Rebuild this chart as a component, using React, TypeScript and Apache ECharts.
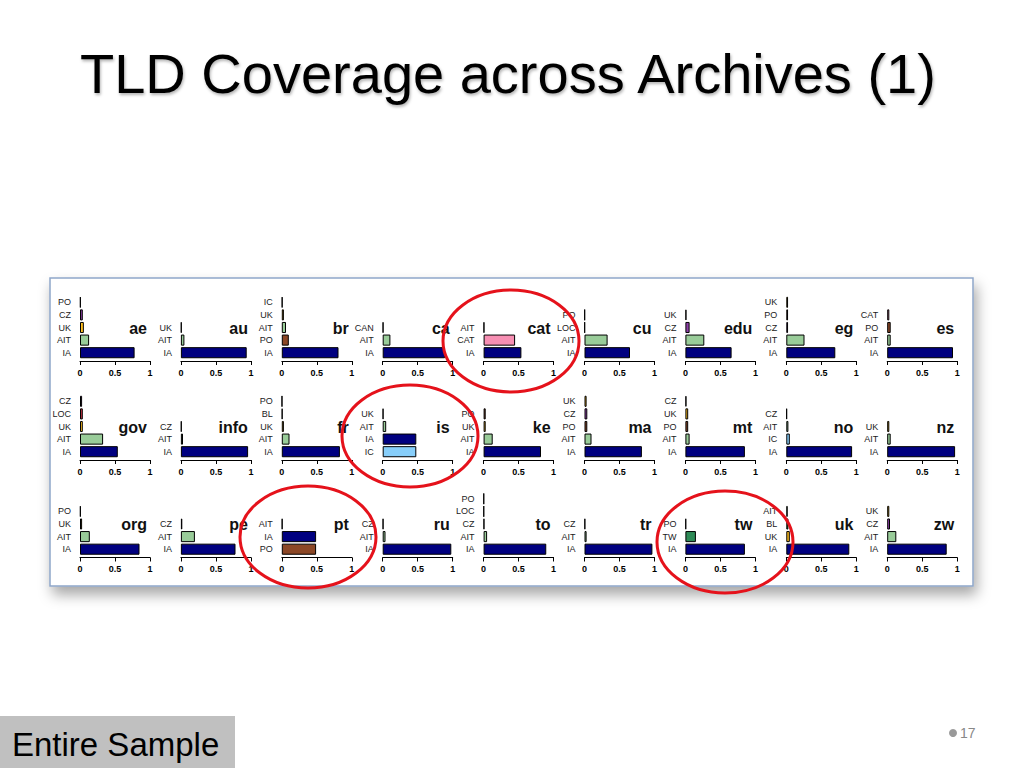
import React, { useEffect, useRef } from 'react';
import * as echarts from 'echarts';

// TLD panels, read left to right, top to bottom
const tlds = [
  'ae', 'au', 'br', 'ca', 'cat', 'cu', 'edu', 'eg', 'es',
  'gov', 'info', 'fr', 'is', 'ke', 'ma', 'mt', 'no', 'nz',
  'org', 'pe', 'pt', 'ru', 'to', 'tr', 'tw', 'uk', 'zw',
];

// archives per panel, listed top to bottom as in the picture
const archives = [
  ['PO', 'CZ', 'UK', 'AIT', 'IA'],
  ['UK', 'AIT', 'IA'],
  ['IC', 'UK', 'AIT', 'PO', 'IA'],
  ['CAN', 'AIT', 'IA'],
  ['AIT', 'CAT', 'IA'],
  ['PO', 'LOC', 'AIT', 'IA'],
  ['UK', 'CZ', 'AIT', 'IA'],
  ['UK', 'PO', 'CZ', 'AIT', 'IA'],
  ['CAT', 'PO', 'AIT', 'IA'],
  ['CZ', 'LOC', 'UK', 'AIT', 'IA'],
  ['CZ', 'AIT', 'IA'],
  ['PO', 'BL', 'UK', 'AIT', 'IA'],
  ['UK', 'AIT', 'IA', 'IC'],
  ['PO', 'UK', 'AIT', 'IA'],
  ['UK', 'CZ', 'PO', 'AIT', 'IA'],
  ['CZ', 'UK', 'PO', 'AIT', 'IA'],
  ['CZ', 'AIT', 'IC', 'IA'],
  ['UK', 'AIT', 'IA'],
  ['PO', 'UK', 'AIT', 'IA'],
  ['CZ', 'AIT', 'IA'],
  ['AIT', 'IA', 'PO'],
  ['CZ', 'AIT', 'IA'],
  ['PO', 'LOC', 'CZ', 'AIT', 'IA'],
  ['CZ', 'AIT', 'IA'],
  ['PO', 'TW', 'IA'],
  ['AIT', 'BL', 'UK', 'IA'],
  ['UK', 'CZ', 'AIT', 'IA'],
];

// share of URIs found in each archive, same order as above
const shares = [
  [0.01, 0.04, 0.055, 0.13, 0.78],
  [0.01, 0.05, 0.94],
  [0.01, 0.03, 0.06, 0.1, 0.81],
  [0.01, 0.11, 0.89],
  [0.01, 0.45, 0.54],
  [0.005, 0.005, 0.33, 0.65],
  [0.015, 0.06, 0.27, 0.66],
  [0.025, 0.025, 0.025, 0.26, 0.7],
  [0.03, 0.05, 0.05, 0.94],
  [0.03, 0.04, 0.04, 0.33, 0.54],
  [0.01, 0.03, 0.96],
  [0.005, 0.01, 0.03, 0.11, 0.83],
  [0.01, 0.05, 0.48, 0.48],
  [0.03, 0.03, 0.13, 0.82],
  [0.03, 0.04, 0.04, 0.1, 0.82],
  [0.015, 0.04, 0.04, 0.06, 0.85],
  [0.01, 0.03, 0.05, 0.94],
  [0.03, 0.05, 0.97],
  [0.01, 0.03, 0.14, 0.85],
  [0.02, 0.2, 0.78],
  [0.01, 0.49, 0.49],
  [0.01, 0.04, 0.98],
  [0.005, 0.005, 0.01, 0.05, 0.895],
  [0.01, 0.03, 0.97],
  [0.01, 0.15, 0.85],
  [0.02, 0.03, 0.05, 0.9],
  [0.03, 0.04, 0.13, 0.85],
];

const xTicks = [0, 0.5, 1];

const archiveColors: Record<string, string> = {
  IA: '#000080',
  AIT: '#99CC99',
  UK: '#FFBE1E',
  CZ: '#8E3FA8',
  PO: '#8B4726',
  LOC: '#CC3344',
  CAT: '#F78FB3',
  IC: '#87CEFA',
  TW: '#2E8B57',
  BL: '#228B22',
  CAN: '#D2691E',
};

// red circles drawn on the slide: [cx, cy]
const highlights = [
  [511, 341],
  [410, 436],
  [308, 537],
  [725, 542],
];

const FONT = "'Liberation Sans', Arial, sans-serif";

export default function App() {
  const chartRef = useRef<HTMLDivElement>(null);

  useEffect(() => {
    document.body.style.margin = '0';
    const chart = echarts.init(chartRef.current, null, { renderer: 'svg' });

    const rowBottoms = [359, 458, 555.5];
    const band = 12.6;
    const colStep = 100.9;
    const plotWidth = 70;

    const grid: any[] = [];
    const xAxis: any[] = [];
    const yAxis: any[] = [];
    const series: any[] = [];
    const labels: any[] = [];

    tlds.forEach((tld, i) => {
      const row = Math.floor(i / 9);
      const col = i % 9;
      const left = 80 + col * colStep;
      const bottom = rowBottoms[row];
      const n = archives[i].length;
      const cats = [...archives[i]].reverse();
      const vals = [...shares[i]].reverse();

      grid.push({ left, top: bottom - n * band, width: plotWidth, height: n * band, containLabel: false });
      xAxis.push({
        gridIndex: i,
        type: 'value',
        min: xTicks[0],
        max: xTicks[xTicks.length - 1],
        interval: 0.5,
        offset: 2,
        axisLine: { show: true, lineStyle: { color: '#000', width: 1 } },
        axisTick: { show: true, length: 4, lineStyle: { color: '#000', width: 1 } },
        splitLine: { show: false },
        axisLabel: {
          fontSize: 9,
          fontWeight: 'bold',
          color: '#000',
          margin: 7,
          fontFamily: FONT,
          showMinLabel: true,
          showMaxLabel: true,
        },
      });
      yAxis.push({
        gridIndex: i,
        type: 'category',
        data: cats,
        axisLine: { show: false },
        axisTick: { show: false },
        axisLabel: { fontSize: 9, color: '#222', margin: 9, interval: 0, fontFamily: FONT },
      });
      series.push({
        type: 'bar',
        name: tld,
        xAxisIndex: i,
        yAxisIndex: i,
        silent: true,
        barCategoryGap: '12%',
        itemStyle: { borderColor: '#000', borderWidth: 1 },
        data: vals.map((v, k) => ({ value: v, itemStyle: { color: archiveColors[cats[k]] } })),
      });
      labels.push({
        type: 'text',
        z: 50,
        x: left + 67,
        y: bottom - 31,
        style: {
          text: tld,
          align: 'right',
          verticalAlign: 'middle',
          font: `bold 16px ${FONT}`,
          fill: '#111',
        },
      });
    });

    const graphic: any[] = [
      {
        type: 'rect',
        z: -10,
        shape: { x: 50, y: 278, width: 923, height: 308 },
        style: {
          fill: '#fff',
          stroke: '#8FA6C9',
          lineWidth: 1.5,
          shadowColor: 'rgba(0,0,0,0.35)',
          shadowBlur: 14,
          shadowOffsetX: 3,
          shadowOffsetY: 8,
        },
      },
      {
        type: 'text',
        z: 50,
        x: 80,
        y: 73,
        style: {
          text: 'TLD Coverage across Archives (1)',
          verticalAlign: 'middle',
          font: `56px ${FONT}`,
          fill: '#000',
          textShadowColor: 'rgba(0,0,0,0.3)',
          textShadowBlur: 3,
          textShadowOffsetX: 1,
          textShadowOffsetY: 2,
        },
      },
      ...labels,
      ...highlights.map(([cx, cy]) => ({
        type: 'ellipse',
        z: 100,
        shape: { cx, cy, rx: 68, ry: 51 },
        style: { fill: 'none', stroke: '#E5121B', lineWidth: 3 },
      })),
      {
        type: 'rect',
        z: 50,
        shape: { x: 0, y: 716, width: 235, height: 52 },
        style: { fill: '#C0C0C0' },
      },
      {
        type: 'text',
        z: 51,
        x: 12,
        y: 744,
        style: { text: 'Entire Sample', verticalAlign: 'middle', font: `33px ${FONT}`, fill: '#000' },
      },
      {
        type: 'circle',
        z: 50,
        shape: { cx: 953, cy: 733, r: 4 },
        style: { fill: '#999' },
      },
      {
        type: 'text',
        z: 50,
        x: 960,
        y: 733,
        style: { text: '17', verticalAlign: 'middle', font: `14px ${FONT}`, fill: '#888' },
      },
    ];

    chart.setOption({
      animation: false,
      backgroundColor: '#fff',
      grid,
      xAxis,
      yAxis,
      series,
      graphic,
    });

    return () => {
      chart.dispose();
    };
  }, []);

  return <div ref={chartRef} style={{ width: '1024px', height: '768px' }}></div>;
}
